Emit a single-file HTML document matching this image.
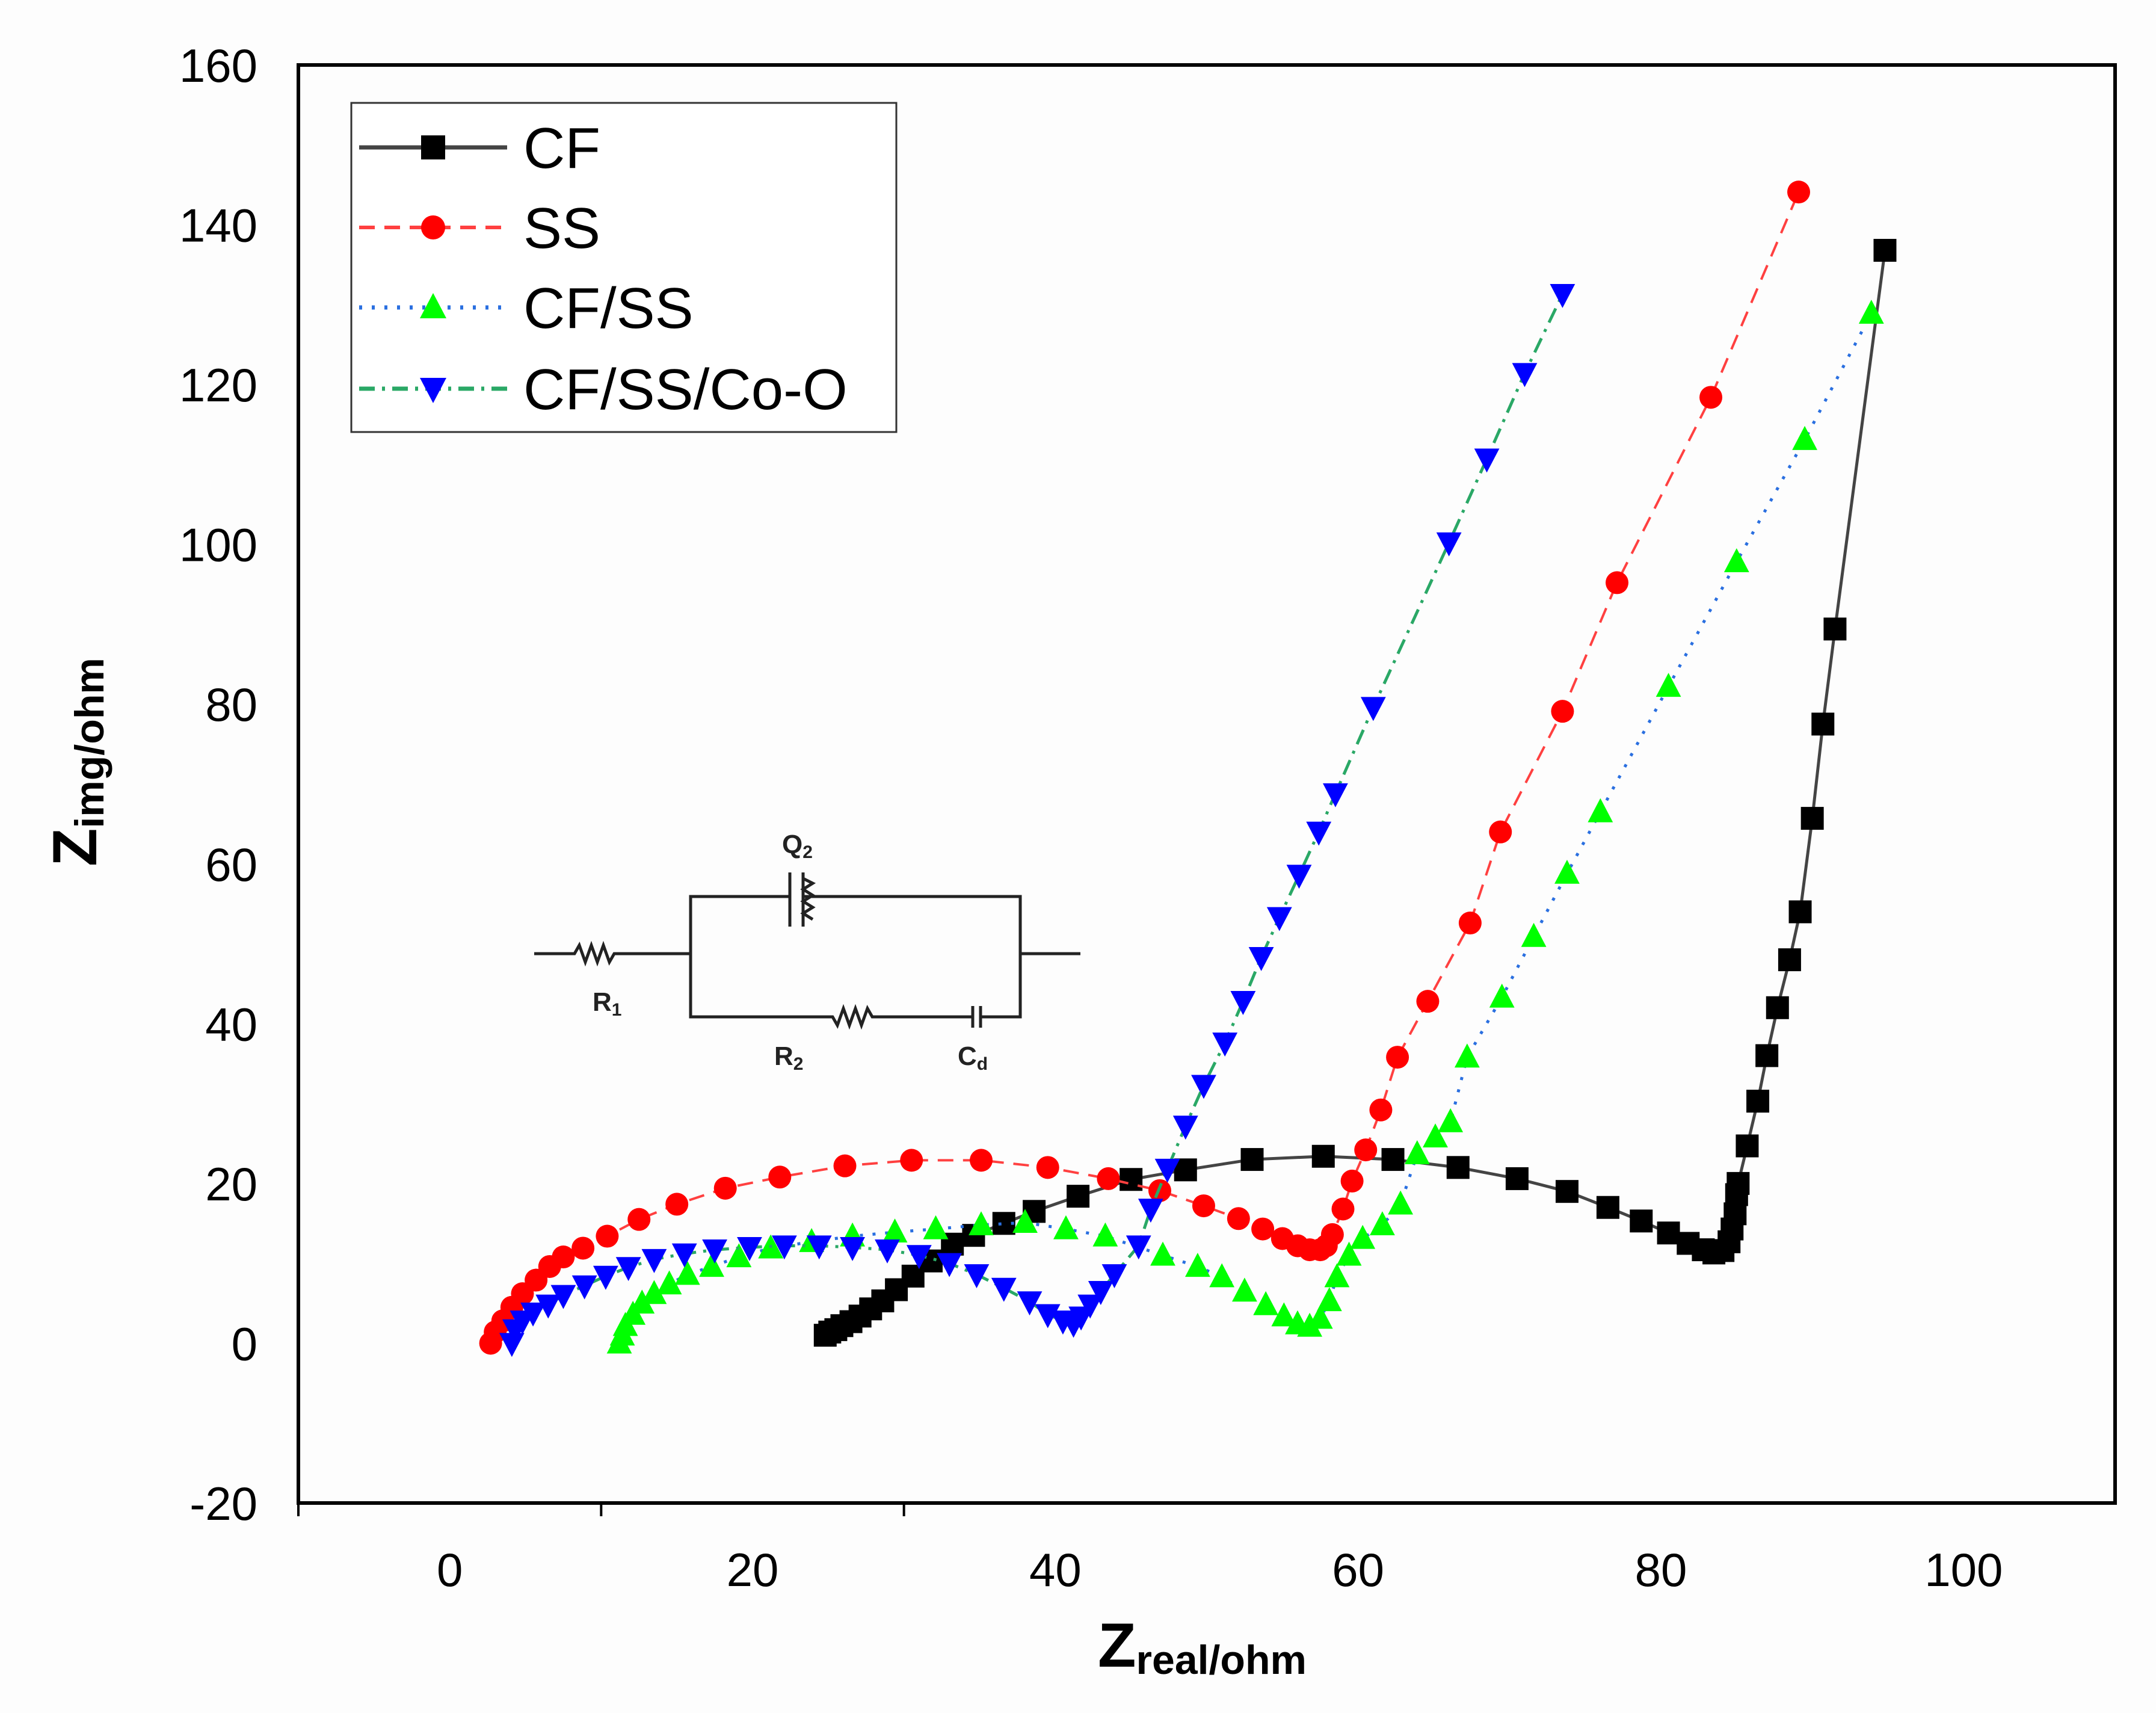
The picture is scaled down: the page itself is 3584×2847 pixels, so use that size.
<!DOCTYPE html>
<html><head><meta charset="utf-8"><style>
html,body{margin:0;padding:0;background:#fdfdfd;}
svg{display:block;font-family:"Liberation Sans",Arial,sans-serif;}
</style></head><body>
<svg id="chart" width="3584" height="2847" viewBox="0 0 3584 2847">
<rect x="0" y="0" width="3584" height="2847" fill="#fdfdfd"/>
<g id="plot"></g>
<g id="axes"></g>
<g id="legend">
<rect x="584" y="171" width="906" height="547" fill="#fff" stroke="#333" stroke-width="3"/>
</g>
<g id="inset" stroke="#222" stroke-width="5" fill="none">
<path d="M888 1585 H955 l8 -14 l10 28 l10 -28 l10 28 l10 -28 l10 28 l8 -14 H1148"/>
<path d="M1148 1585 V1490 H1313 M1335 1490 H1696 V1690 H1630 M1617 1690 H1450 l-8 -14 l-10 28 l-10 -28 l-10 28 l-10 -28 l-10 28 l-8 -14 H1148 V1585"/>
<path d="M1313 1450 V1540 M1335 1450 V1540 M1335 1460 l16 8 l-16 10 l16 10 l-16 10 l16 10 l-16 10 l16 10"/>
<path d="M1617 1672 V1708 M1630 1672 V1708"/>
<path d="M1696 1585 H1796"/>
<g stroke="none" fill="#222" font-weight="bold" font-size="44">
<text x="1300" y="1418">Q<tspan font-size="30" dy="8">2</tspan></text>
<text x="985" y="1680">R<tspan font-size="30" dy="8">1</tspan></text>
<text x="1287" y="1770">R<tspan font-size="30" dy="8">2</tspan></text>
<text x="1592" y="1770">C<tspan font-size="30" dy="8">d</tspan></text>
</g>
</g>
</svg>
<script>
const xTicks=[0,20,40,60,80,100];
const yTicks=[-20,0,20,40,60,80,100,120,140,160];
const seriesNames=["CF","SS","CF/SS","CF/SS/Co-O"];
const cfX=[24.8,25.1,25.5,25.9,26.5,27.1,27.8,28.6,29.5,30.6,31.8,33.2,34.6,36.6,38.6,41.5,45,48.6,53,57.7,62.3,66.6,70.5,73.8,76.5,78.7,80.5,81.8,82.8,83.5,84.1,84.5,84.7,84.9,85.0,85.1,85.7,86.4,87.0,87.7,88.5,89.2,90.0,90.7,91.5,94.8];
const cfY=[1.0,1.4,1.7,2.2,2.7,3.4,4.3,5.3,6.7,8.4,10.3,12.4,13.5,15,16.5,18.4,20.5,21.7,23,23.4,23,22,20.6,19,17,15.3,13.8,12.5,11.7,11.3,11.6,12.7,14.3,16.2,18.6,20,24.7,30.3,36,42,48,54,65.7,77.5,89.4,136.8];
const ssX=[2.7,3.0,3.5,4.1,4.8,5.7,6.6,7.5,8.8,10.4,12.5,15,18.2,21.8,26.1,30.5,35.1,39.5,43.5,46.9,49.8,52.1,53.7,55,56,56.8,57.5,57.9,58.3,59,59.6,60.5,61.5,62.6,64.6,67.4,69.4,73.5,77.1,83.3,89.1];
const ssY=[0,1.4,2.8,4.5,6.2,7.9,9.6,10.8,11.9,13.4,15.5,17.4,19.4,20.8,22.2,22.9,22.9,22,20.6,19.1,17.2,15.6,14.3,13.1,12.2,11.7,11.7,12.2,13.6,16.8,20.3,24.2,29.2,35.8,42.8,52.6,64,79.1,95.2,118.4,144.1];
const cfssX=[11.2,11.4,11.6,12.1,12.7,13.5,14.5,15.7,17.3,19.1,21.2,23.9,26.6,29.4,32.1,35.1,38,40.7,43.3,47.1,49.4,51,52.5,53.9,55.1,56,56.8,57.5,58.1,58.6,59.4,60.3,61.6,62.8,63.9,65.1,66.1,67.2,69.5,71.6,73.8,76,80.5,85,89.5,93.9];
const cfssY=[0,1,2.2,3.6,5,6.2,7.4,8.6,9.6,10.8,11.9,12.7,13.4,13.9,14.3,14.8,15.1,14.3,13.4,11,9.6,8.3,6.5,4.8,3.4,2.4,2.1,3.1,5.3,8.3,11,13.1,14.8,17.4,23.7,25.8,27.7,35.8,43.3,50.9,58.8,66.5,82.2,97.8,113.1,128.9];
const coX=[4.1,4.3,4.8,5.5,6.5,7.5,8.9,10.3,11.8,13.5,15.5,17.5,19.8,22.1,24.4,26.6,28.9,31,33,34.8,36.6,38.3,39.5,40.5,41.2,41.7,42.3,43,43.9,45.5,46.3,47.4,48.6,49.8,51.2,52.4,53.6,54.8,56.1,57.4,58.5,61,66,68.5,71,73.5];
const coY=[0,1.7,2.8,3.8,4.8,6,7.2,8.4,9.5,10.5,11.2,11.7,12,12.2,12.2,12,11.7,11,10,8.6,6.9,5.2,3.6,2.8,2.4,3.3,4.8,6.5,8.6,12.2,16.8,21.8,27.2,32.3,37.6,42.8,48.3,53.3,58.6,64,68.8,79.6,100.2,110.7,121.4,131.3];

const NS="http://www.w3.org/2000/svg";
const X0=-10,X1=110,Y0=-20,Y1=160,PL=496,PR=3516,PT=108,PB=2498;
function X(v){return PL+(v-X0)*(PR-PL)/(X1-X0);}
function Y(v){return PB-(v-Y0)*(PB-PT)/(Y1-Y0);}
function mk(tag,attrs,parent){const e=document.createElementNS(NS,tag);for(const k in attrs)e.setAttribute(k,attrs[k]);parent.appendChild(e);return e;}
const plot=document.getElementById('plot'),axes=document.getElementById('axes'),legend=document.getElementById('legend');

function marker(kind,cx,cy,parent,s){
  let e;
  if(kind==='sq'){e=mk('rect',{x:cx-s/2,y:cy-s/2,width:s,height:s,fill:'#000'},parent);}
  else if(kind==='ci'){e=mk('circle',{cx:cx,cy:cy,r:s/2,fill:'#ff0000'},parent);}
  else if(kind==='up'){e=mk('polygon',{points:`${cx},${cy-s*0.6} ${cx-s*0.55},${cy+s*0.45} ${cx+s*0.55},${cy+s*0.45}`,fill:'#00ff00'},parent);}
  else {e=mk('polygon',{points:`${cx},${cy+s*0.6} ${cx-s*0.55},${cy-s*0.45} ${cx+s*0.55},${cy-s*0.45}`,fill:'#0000ff'},parent);}
  return e;
}
const styles=[
 {xs:cfX,ys:cfY,color:'#444',dash:'',m:'sq',w:5,name:'cf'},
 {xs:ssX,ys:ssY,color:'#ff4040',dash:'26 16',m:'ci',w:4,name:'ss'},
 {xs:cfssX,ys:cfssY,color:'#2a6fe0',dash:'5 16',m:'up',w:5,name:'cf-ss'},
 {xs:coX,ys:coY,color:'#2aa866',dash:'26 12 5 12',m:'dn',w:5,name:'cf-ss-coo'}
];
styles.forEach((s)=>{
  const g=mk('g',{},plot);
  
  
  const pts=s.xs.map((v,i)=>X(v)+','+Y(s.ys[i])).join(' ');
  const l=mk('polyline',{points:pts,fill:'none',stroke:s.color,'stroke-width':s.w,'stroke-dasharray':s.dash},g);
  
  
  s.xs.forEach((v,i)=>{
    const e=marker(s.m,X(v),Y(s.ys[i]),g,38);
    
    
  });
});
const fr=mk('rect',{x:PL,y:PT,width:PR-PL,height:PB-PT,fill:'none',stroke:'#000','stroke-width':6},axes);


[10,30].forEach(v=>{
  const t=mk('line',{x1:X(v),x2:X(v),y1:PB,y2:PB+22,stroke:'#000','stroke-width':4},axes);
  
  
});
const bt=mk('line',{x1:PL,x2:PL,y1:PB,y2:PB+22,stroke:'#000','stroke-width':4},axes);


xTicks.forEach(v=>{
  const t=mk('text',{x:X(v),y:2636,'text-anchor':'middle','font-size':78,fill:'#000'},axes);
  t.textContent=v;
  
  
});
yTicks.forEach(v=>{
  const t=mk('text',{x:428,y:Y(v)+28,'text-anchor':'end','font-size':78,fill:'#000'},axes);
  t.textContent=v;
  
  
});
const xt=mk('text',{x:1825,y:2770,'font-size':104,'font-weight':'bold',fill:'#000'},axes);
xt.innerHTML='Z<tspan font-size="68" dy="12">real/ohm</tspan>';


const yt=mk('text',{x:0,y:0,'font-size':104,'font-weight':'bold',fill:'#000',transform:'translate(160,1440) rotate(-90)'},axes);
yt.innerHTML='Z<tspan font-size="68" dy="12">img/ohm</tspan>';


const ly=[245,378,511,646];
styles.forEach((s,i)=>{
  const g=mk('g',{},legend);
  
  
  mk('line',{x1:597,x2:843,y1:ly[i],y2:ly[i],stroke:s.color,'stroke-width':s.w+2,'stroke-dasharray':s.dash},g);
  marker(s.m,720,ly[i],g,40);
  const t=mk('text',{x:870,y:ly[i]+34,'font-size':96,fill:'#000'},g);
  t.textContent=seriesNames[i];
});
</script>
</body></html>
